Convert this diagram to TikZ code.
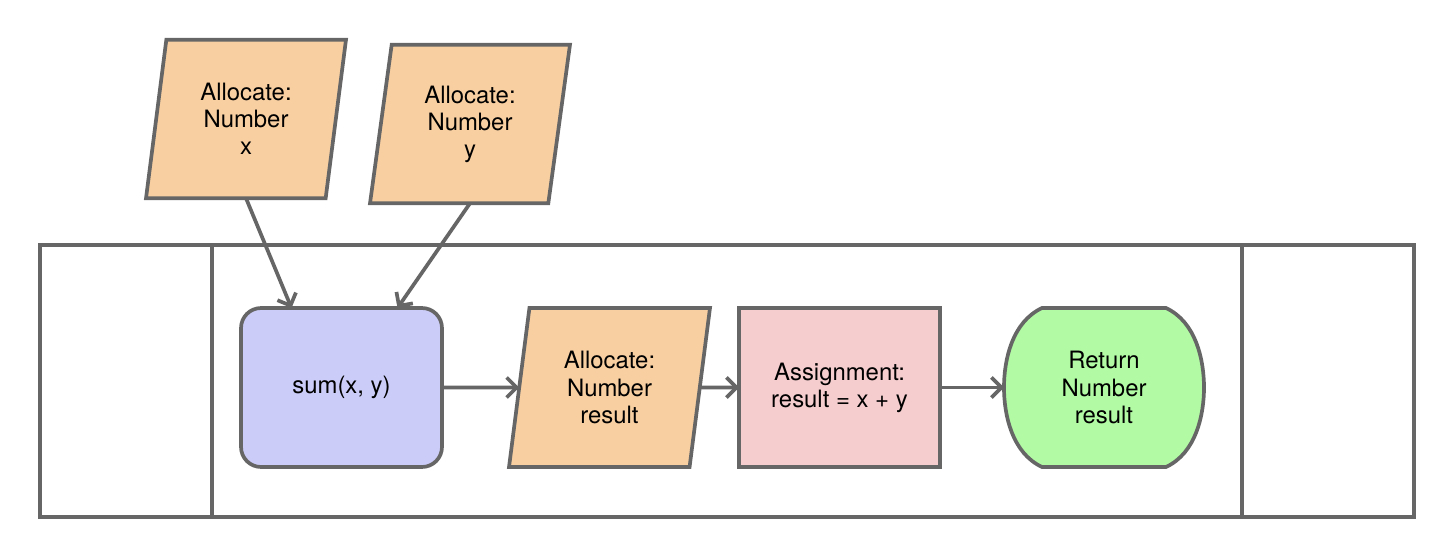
\documentclass[tikz,border=0pt]{standalone}
\usepackage{fontspec}
\setmainfont{TeX Gyre Heros}
\usetikzlibrary{shapes.geometric,arrows.meta}
\definecolor{edge}{HTML}{666666}
\definecolor{allocfill}{HTML}{F8CFA1}
\definecolor{funcfill}{HTML}{CCCCF9}
\definecolor{assignfill}{HTML}{F5CDCE}
\definecolor{retfill}{HTML}{B2FBA4}

\begin{document}
\begin{tikzpicture}
  [x=0.02cm, y=-0.02cm, line width=2.1pt, draw=edge,
  every node/.style={font=\fontsize{13.6}{15.4}\selectfont, align=center, outer sep=0pt, inner sep=2pt},
  alloc/.style={trapezium, trapezium stretches body, trapezium left angle=75.5, trapezium right angle=104.5,
    draw=edge, fill=allocfill, minimum width=4cm, minimum height=3.17cm},
  func/.style={rectangle, rounded corners=0.4cm, draw=edge, fill=funcfill, minimum width=4.02cm, minimum height=3.18cm},
  assign/.style={rectangle, draw=edge, fill=assignfill, minimum width=4.02cm, minimum height=3.18cm},
  retbox/.style={rectangle, minimum width=4cm, minimum height=3.18cm},
  flow/.style={draw=edge, -{Straight Barb[length=2mm, width=4mm]}}]
  \useasboundingbox (0,0) rectangle (1454,558);

  % frame
  \draw[edge] (40,245) rectangle (1414,517);
  \draw[edge] (212,245) -- (212,517);
  \draw[edge] (1242,245) -- (1242,517);

  % inputs
  \node[alloc] (allocx) at (246,119) {Allocate:\\Number\\x};
  \node[alloc] (allocy) at (470,124) {Allocate:\\Number\\y};

  % main row
  \node[func] (sum) at (341.5,387.5) {sum(x, y)};
  \node[alloc, minimum width=4.02cm, minimum height=3.18cm] (allocres) at (609.5,387.5) {Allocate:\\Number\\result};
  \node[assign] (assign) at (839.5,387.5) {Assignment:\\result = x + y};
  \filldraw[draw=edge, fill=retfill] (1042,308) -- (1166,308)
    .. controls (1196,322) and (1204,360) .. (1204,387.5)
    .. controls (1204,415) and (1196,453) .. (1166,467) -- (1042,467)
    .. controls (1012,453) and (1004,415) .. (1004,387.5)
    .. controls (1004,360) and (1012,322) .. (1042,308) -- cycle;
  \node[retbox] (ret) at (1104,387.5) {Return\\Number\\result};

  \draw[flow] (allocx.south) -- ([xshift=-1cm]sum.north);
  \draw[flow] (allocy.south) -- ([xshift=1.12cm]sum.north);
  \draw[flow] (sum) -- (allocres);
  \draw[flow] (allocres) -- (assign);
  \draw[flow] (assign) -- (ret);
\end{tikzpicture}
\end{document}
